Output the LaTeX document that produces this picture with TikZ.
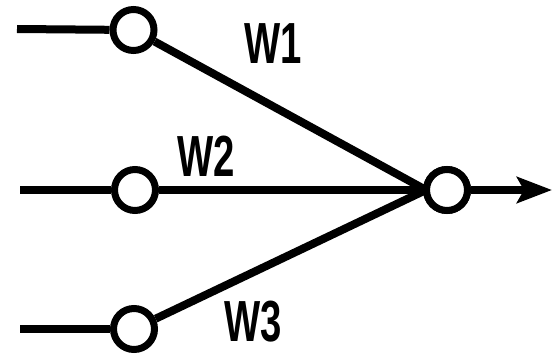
\documentclass[tikz,border=0pt]{standalone}
\usepackage{fontspec}
\setmainfont{Liberation Sans}
\usetikzlibrary{arrows.meta}
\begin{document}
\begin{tikzpicture}[x=1pt,y=-1pt,
  dot/.style={circle,draw=black,fill=white,line width=7pt,minimum size=41pt,inner sep=0pt},
  wire/.style={line width=8pt,line cap=butt},
  weight/.style={inner sep=0pt,font=\bfseries\fontsize{58}{58}\selectfont},
]
\useasboundingbox (0,0) rectangle (553,353);
% input and output units
\node[dot] (i1) at (133.5,30) {};
\node[dot] (i2) at (135,190) {};
\node[dot] (i3) at (134,329) {};
\node[dot] (o)  at (447,190) {};
% free ends of the input and output lines
\coordinate (s1) at (17,29);
\coordinate (s2) at (20,190);
\coordinate (s3) at (20,329);
\coordinate (e)  at (552,190);
\coordinate (m)  at (426,190);
% input lines
\draw[wire] (s1) -- (i1);
\draw[wire] (s2) -- (i2);
\draw[wire] (s3) -- (i3);
% weighted connections
\draw[wire] (i1) -- (m);
\draw[wire] (i2) -- (m);
\draw[wire] (i3) -- (m);
\node[dot] at (o) {};
% output
\draw[wire,-{Stealth[length=35pt,width=26pt,inset=7pt]}] (o) -- (e);
% weights
\node[weight] (w1) at (273,44) {\scalebox{0.66}[1]{W1}};
\node[weight] (w2) at (206,156) {\scalebox{0.66}[1]{W2}};
\node[weight] (w3) at (253,322) {\scalebox{0.66}[1]{W3}};
\end{tikzpicture}
\end{document}
